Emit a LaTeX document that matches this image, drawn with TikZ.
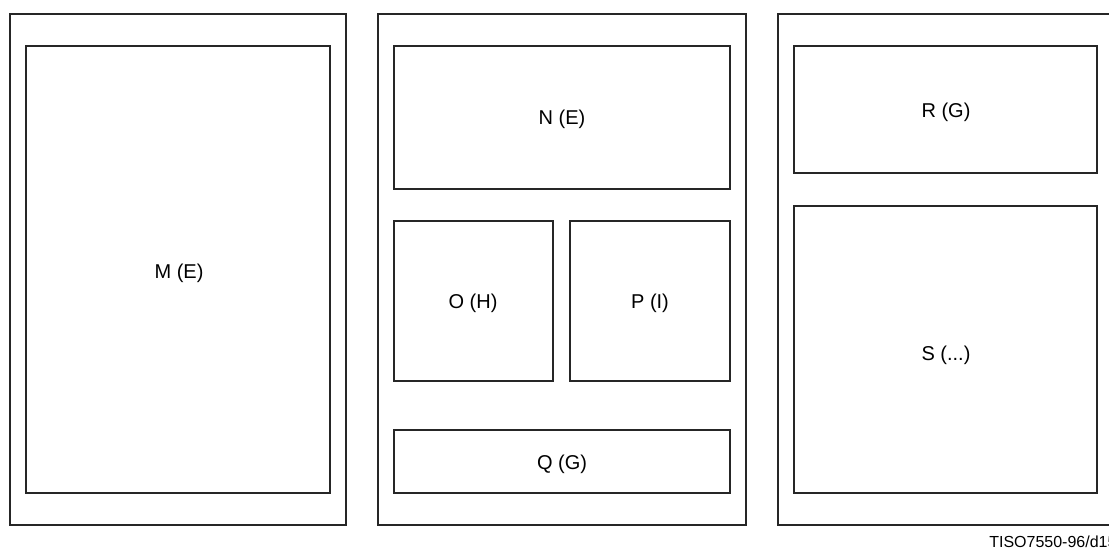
\documentclass[tikz,border=0pt]{standalone}
\usepackage{fontspec}
\setmainfont{Liberation Sans}

\begin{document}
\begin{tikzpicture}[x=0.75pt,y=-0.75pt]
		\tikzset{frame/.style = {draw = black!85, line width = 1.3pt},
			lbl/.style = {font = \fontsize{15}{18}\selectfont}}
		\useasboundingbox (0, 0) rectangle (1109, 549);
		%%%%%%%%%%%%% outer frames
		\draw [frame] (10, 14) rectangle (346, 525);
		\draw [frame] (378, 14) rectangle (746, 525);
		\draw [frame] (778, 14) rectangle (1114, 525);
		%%%%%%%%%%%%% inner frames
		\draw [frame] (26, 46) rectangle (330, 493);
		\draw [frame] (394, 46) rectangle (730, 189);
		\draw [frame] (394, 221) rectangle (553, 381);
		\draw [frame] (570, 221) rectangle (730, 381);
		\draw [frame] (394, 430) rectangle (730, 493);
		\draw [frame] (794, 46) rectangle (1097, 173);
		\draw [frame] (794, 206) rectangle (1097, 493);
		%%%%%%%%%%%%%
		\node [lbl] (m) at (179, 273) {M (E)};
		\node [lbl] (n) at (562, 119) {N (E)};
		\node [lbl] (o) at (473, 303) {O (H)};
		\node [lbl] (p) at (650, 303) {P (I)};
		\node [lbl] (q) at (562, 464) {Q (G)};
		\node [lbl] (r) at (946, 112) {R (G)};
		\node [lbl] (s) at (946, 355) {S (...)};
		\node [font = \fontsize{12}{14}\selectfont, anchor = base west, inner sep = 0pt] (tag) at (989, 547) {TISO7550-96/d15};
	\end{tikzpicture}
\end{document}
